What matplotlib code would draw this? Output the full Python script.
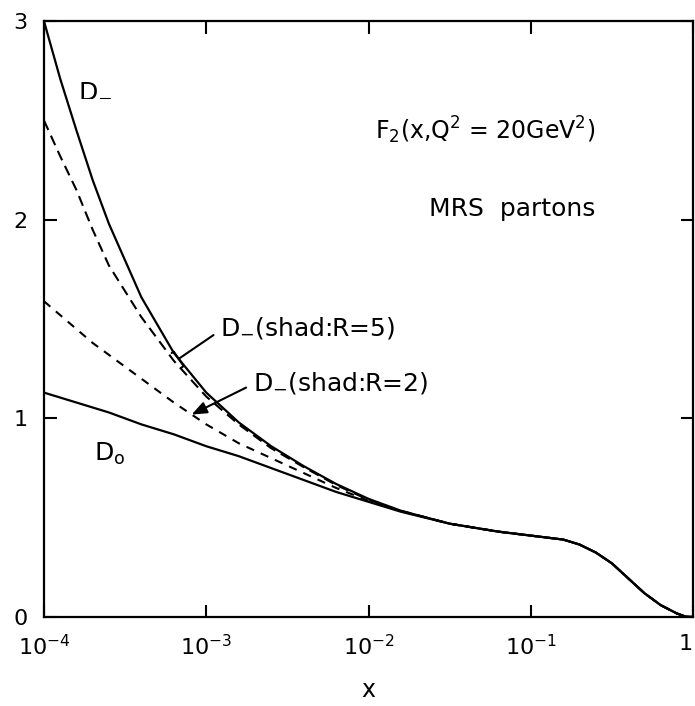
import numpy as np
import matplotlib
matplotlib.use('Agg')
from matplotlib import pyplot as plt

# log10(x) grid the curves were read on
logx = [-4.0, -3.9, -3.8, -3.7, -3.6, -3.4, -3.2, -3.0, -2.8, -2.6, -2.4, -2.2, -2.0, -1.8,
        -1.5, -1.2, -1.0, -0.8, -0.7, -0.6, -0.5, -0.4, -0.3, -0.2, -0.1, -0.05, 0.0]

# common tail (all curves merge above x ~ 1e-2)
tail = [0.47, 0.43, 0.41, 0.39, 0.365, 0.325, 0.27, 0.195, 0.12, 0.06, 0.018, 0.003, 0.0]

d_zero = [1.13, 1.105, 1.08, 1.055, 1.03, 0.97, 0.92, 0.86, 0.81, 0.75, 0.69, 0.63, 0.58, 0.53] + tail
d_minus = [3.0, 2.71, 2.45, 2.20, 1.98, 1.61, 1.33, 1.13, 0.98, 0.86, 0.76, 0.67, 0.595, 0.535] + tail
d_shad5 = [2.5, 2.32, 2.15, 1.95, 1.77, 1.51, 1.29, 1.11, 0.97, 0.85, 0.755, 0.665, 0.59, 0.535] + tail
d_shad2 = [1.59, 1.52, 1.45, 1.38, 1.32, 1.20, 1.08, 0.97, 0.875, 0.80, 0.725, 0.65, 0.585, 0.533] + tail

xticks = [1e-4, 1e-3, 1e-2, 1e-1, 1]
xticklabels = ['$10^{-4}$', '$10^{-3}$', '$10^{-2}$', '$10^{-1}$', '1']
yticks = [0, 1, 2, 3]

x = 10.0 ** np.array(logx)

fig = plt.figure(figsize=(6.95, 7.06), dpi=100)
ax = fig.add_axes([0.0633, 0.126, 0.934, 0.844])

ax.plot(x, d_minus, color='black', lw=1.6)
ax.plot(x, d_zero, color='black', lw=1.6)
ax.plot(x, d_shad5, color='black', lw=1.5, dashes=(5, 3))
ax.plot(x, d_shad2, color='black', lw=1.5, dashes=(4, 3.5))

ax.set_xscale('log')
ax.set_xlim(1e-4, 1)
ax.set_ylim(0, 3)
ax.set_xticks(xticks)
ax.set_xticklabels(xticklabels)
ax.set_yticks(yticks)
ax.minorticks_off()
ax.tick_params(direction='in', length=9, width=1.5, top=True, right=True,
               labelsize=16, pad=12)
ax.get_xticklabels()[-1].set_horizontalalignment('right')
for s in ax.spines.values():
    s.set_linewidth(1.6)
ax.set_xlabel('x', fontsize=17, labelpad=14)

# curve labels
ax.text(2.06e-4, 2.66, 'D$_{-}$', fontsize=18, ha='center', va='center')
ax.text(2.55e-4, 0.82, 'D$_{\\mathrm{o}}$', fontsize=18, ha='center', va='center')
ax.text(0.25, 2.45, 'F$_2$(x,Q$^2$ = 20GeV$^2$)', fontsize=17, ha='right', va='center')
ax.text(0.25, 2.055, 'MRS  partons', fontsize=18, ha='right', va='center')

# leader lines to the shadowed curves
lx5 = -3.17
ax.annotate('D$_{-}$(shad:R=5)', xy=(10 ** lx5, np.interp(lx5, logx, d_minus)),
            xytext=(1.21e-3, 1.454), fontsize=18, ha='left', va='center',
            arrowprops=dict(arrowstyle='-[, widthB=0.35, lengthB=0.1', color='black',
                            lw=1.5, relpos=(0, 0.4), shrinkA=3, shrinkB=0))
lx2 = -3.09
ax.annotate('D$_{-}$(shad:R=2)', xy=(10 ** lx2, np.interp(lx2, logx, d_shad2)),
            xytext=(1.93e-3, 1.178), fontsize=18, ha='left', va='center',
            arrowprops=dict(arrowstyle='-|>, head_length=0.5, head_width=0.2',
                            color='black', lw=1.5, relpos=(0, 0.45), shrinkA=3, shrinkB=0))

fig.savefig('out.png', dpi=100)
